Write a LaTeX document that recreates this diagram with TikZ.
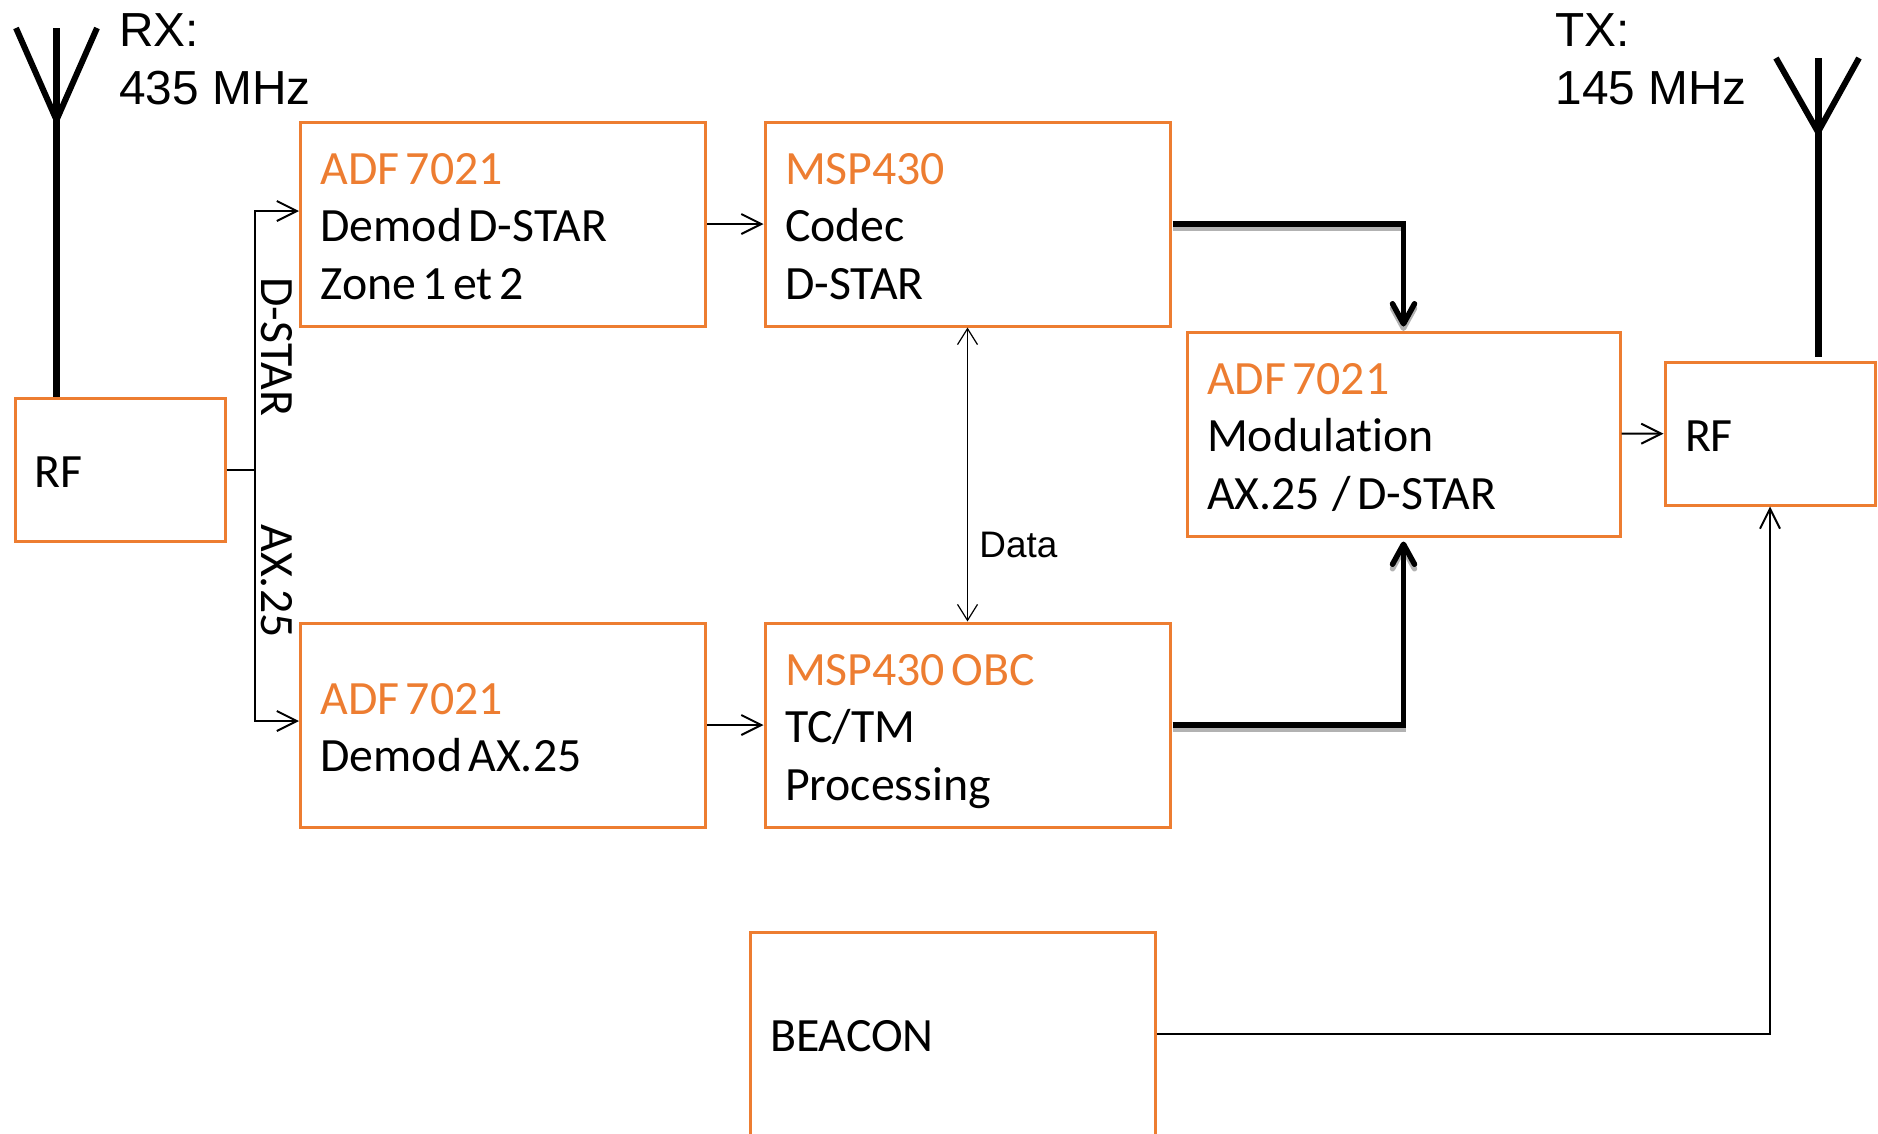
\documentclass[tikz,border=0pt]{standalone}
\usepackage{fontspec}
\setmainfont[Ligatures=NoCommon]{Carlito}
\newfontfamily\armfont{Liberation Sans}
\usetikzlibrary{arrows.meta,calc,positioning}
\definecolor{boxorange}{HTML}{ED7D31}
\newcommand{\chipname}[1]{\textcolor{boxorange}{#1}}
\newcommand{\topstrut}{\spaceskip=1.8pt\relax\leavevmode\vrule height 15pt depth 0pt width 0pt\relax}
\tikzset{
  blockbox/.style={draw=boxorange,line width=0.03cm,inner xsep=0.2cm,inner ysep=0pt,
    align=left,font=\fontsize{13.6}{16.3}\selectfont,
    execute at begin node=\topstrut,execute at end node=\strut},
  widebox/.style={blockbox,text width=3.65cm,minimum height=2.04cm},
  rfbox/.style={blockbox,text width=1.7cm,minimum height=1.43cm},
  thinline/.style={line width=0.02cm,-{Straight Barb[length=0.2cm,width=0.2cm]}},
  thickline/.style={line width=0.055cm,shorten <=0.01cm,shorten >=0.04cm,
    -{Straight Barb[length=0.2cm,width=0.22cm,round]}},
  shadowline/.style={thickline,draw=gray!60,transform canvas={yshift=-0.045cm}},
  mastline/.style={line width=0.07cm},
  bandlabel/.style={align=left,font=\armfont\fontsize{13.6}{16.4}\selectfont},
  buslabel/.style={rotate=-90,font=\fontsize{13.6}{16.3}\selectfont},
}
\begin{document}
\begin{tikzpicture}[x=1.0cm,y=-1.0cm]
  \clip (0,0) rectangle (18.78,11.34);
  % receive side
  \node[rfbox] (rfrx) at (1.2,4.70) {RF};
  \node[widebox] (adfdstar) at (5.03,2.24) {\chipname{ADF 7021}\\Demod D-STAR\\Zone 1 et 2};
  \node[widebox] (adfax) at (5.03,7.25) {\chipname{ADF 7021}\\Demod AX.25};
  \node[widebox] (codec) at (9.675,2.24) {\chipname{MSP430}\\Codec\\D-STAR};
  \node[widebox] (obc) at (9.675,7.25) {\chipname{MSP430 OBC}\\TC/TM\\Processing};
  \node[widebox] (beacon) at (9.525,10.34) {BEACON};
  % transmit side
  \node[widebox,text width=3.93cm] (modul) at (14.035,4.34) {\chipname{ADF 7021}\\Modulation\\AX.25\hspace{3.6pt}/ D-STAR};
  \node[rfbox] (rftx) at (17.7,4.335) {RF};
  \node[bandlabel,anchor=west] (rxband) at (1.07,0.59) {RX:\\435 MHz};
  \node[bandlabel,anchor=west] (txband) at (15.43,0.59) {TX:\\145 MHz};
  % antennas
  \coordinate (rxjoin) at (0.565,1.2);
  \coordinate (txjoin) at (18.18,1.32);
  \draw[mastline] (0.565,0.28) -- (rfrx.north -| rxjoin);
  \draw[line width=0.06cm] (0.16,0.28) -- (rxjoin) -- (0.97,0.28);
  \draw[mastline] (18.18,0.58) -- (18.18,3.57);
  \draw[line width=0.06cm] (17.76,0.58) -- (txjoin) -- (18.59,0.58);
  % split after the RX front end
  \coordinate (bustap) at (rfrx.east -| 2.55,0);
  \coordinate (bustop) at (2.55,2.11);
  \coordinate (busend) at (2.55,7.21);
  \draw[line width=0.02cm] (rfrx.east) -- (bustap);
  \draw[thinline] (bustap) -- (bustop) -- (bustop -| adfdstar.west);
  \draw[thinline] (bustap) -- (busend) -- (busend -| adfax.west);
  \node[buslabel] (dstarlabel) at (2.77,3.47) {D-STAR};
  \node[buslabel] (axlabel) at (2.77,5.81) {AX.25};
  \draw[thinline] (adfdstar) -- (codec);
  \draw[thinline] (adfax) -- (obc);
  \draw[line width=0.012cm,{Straight Barb[length=0.16cm,width=0.2cm]}-{Straight Barb[length=0.16cm,width=0.2cm]}] (codec) -- (obc);
  \node[anchor=west,font=\armfont\fontsize{10.5}{12}\selectfont] (datalabel) at (9.67,5.45) {Data};
  % heavy paths into the modulator
  \draw[shadowline] (codec.east) -| (modul.north);
  \draw[shadowline] (obc.east) -| (modul.south);
  \draw[thickline] (codec.east) -| (modul.north);
  \draw[thickline] (obc.east) -| (modul.south);
  \draw[thinline] (modul) -- (rftx);
  \draw[thinline] (beacon.east) -| (rftx.south);
\end{tikzpicture}
\end{document}
